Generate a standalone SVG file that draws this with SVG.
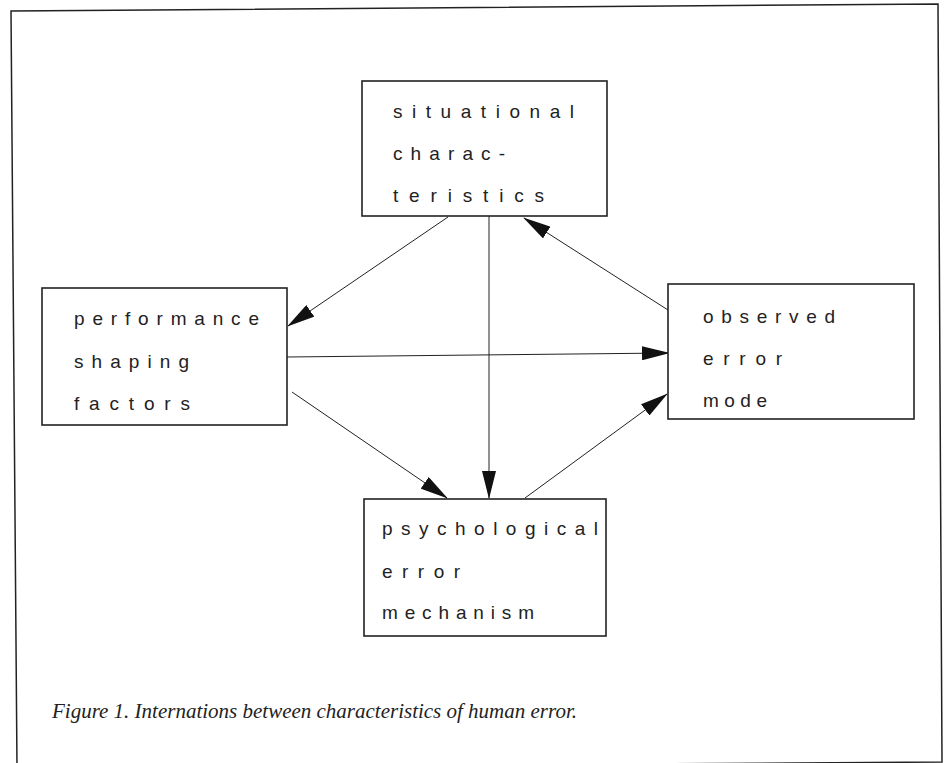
<svg xmlns="http://www.w3.org/2000/svg" width="944" height="763" viewBox="0 0 944 763">
<style>
.frame{fill:none;stroke:#222;stroke-width:1.5}
.box{fill:#fff;stroke:#222;stroke-width:1.6}
.lbl{font-family:"Liberation Sans Narrow","Liberation Sans",sans-serif;font-size:19px;fill:#222}
.conn{stroke:#222;stroke-width:1;fill:none;marker-end:url(#ah)}
.cap{font-family:"Liberation Serif",serif;font-style:italic;font-size:20px;fill:#222}
</style>
<defs>
<marker id="ah" markerUnits="userSpaceOnUse" markerWidth="28" markerHeight="14" refX="27" refY="7" orient="auto">
<path d="M0,0 L28,7 L0,14 z" fill="#111"/>
</marker>
</defs>
<rect width="944" height="763" fill="#fff"/>
<g id="frame">
<path class="frame" d="M17,768 L11,11 L938,4 L942,762 L17,768"/>
</g>
<g id="connectors">
<line class="conn" x1="448" y1="217" x2="288" y2="326"/>
<line class="conn" x1="489" y1="216" x2="489" y2="498"/>
<line class="conn" x1="668" y1="310" x2="524" y2="218"/>
<line class="conn" x1="287" y1="357" x2="669" y2="353"/>
<line class="conn" x1="292" y1="392" x2="447" y2="498"/>
<line class="conn" x1="525" y1="498" x2="667" y2="394"/>
</g>
<g id="situational">
<rect class="box" x="362" y="81" width="245" height="135"/>
<text class="lbl" x="393" y="118" textLength="181" lengthAdjust="spacing">situational</text>
<text class="lbl" x="393" y="160" textLength="112" lengthAdjust="spacing">charac-</text>
<text class="lbl" x="393" y="202" textLength="151" lengthAdjust="spacing">teristics</text>
</g>
<g id="performance">
<rect class="box" x="42" y="288" width="245" height="137"/>
<text class="lbl" x="74" y="325" textLength="185" lengthAdjust="spacing">performance</text>
<text class="lbl" x="74" y="368" textLength="115" lengthAdjust="spacing">shaping</text>
<text class="lbl" x="74" y="410" textLength="116" lengthAdjust="spacing">factors</text>
</g>
<g id="observed">
<rect class="box" x="668" y="284" width="246" height="135"/>
<text class="lbl" x="703" y="323" textLength="132" lengthAdjust="spacing">observed</text>
<text class="lbl" x="703" y="365" textLength="79" lengthAdjust="spacing">error</text>
<text class="lbl" x="703" y="407" textLength="64" lengthAdjust="spacing">mode</text>
</g>
<g id="psychological">
<rect class="box" x="364" y="499" width="242" height="137"/>
<text class="lbl" x="382" y="535" textLength="216" lengthAdjust="spacing">psychological</text>
<text class="lbl" x="382" y="578" textLength="78" lengthAdjust="spacing">error</text>
<text class="lbl" x="382" y="619" textLength="152" lengthAdjust="spacing">mechanism</text>
</g>
<g id="caption">
<text class="cap" x="52" y="718" textLength="525" lengthAdjust="spacingAndGlyphs">Figure 1. Internations between characteristics of human error.</text>
</g>
</svg>
